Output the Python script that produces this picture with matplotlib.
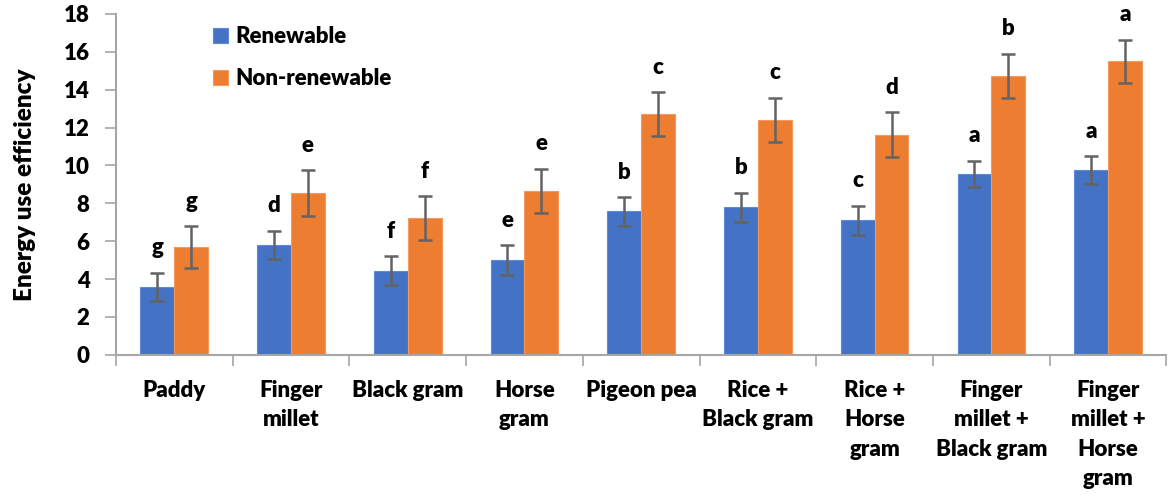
import matplotlib.pyplot as plt
import numpy as np

plt.rcParams['font.family'] = ['Lato', 'DejaVu Sans']
plt.rcParams['font.weight'] = 'heavy'

categories = ["Paddy", "Finger\nmillet", "Black gram", "Horse\ngram", "Pigeon pea",
              "Rice +\nBlack gram", "Rice +\nHorse\ngram", "Finger\nmillet +\nBlack gram",
              "Finger\nmillet +\nHorse\ngram"]
renewable = [3.6, 5.8, 4.45, 5.0, 7.57, 7.78, 7.1, 9.55, 9.76]
renewable_err = [0.74, 0.75, 0.75, 0.78, 0.75, 0.78, 0.76, 0.7, 0.73]
nonrenewable = [5.7, 8.55, 7.22, 8.66, 12.71, 12.42, 11.63, 14.72, 15.49]
nonrenewable_err = [1.1, 1.2, 1.15, 1.17, 1.15, 1.16, 1.19, 1.18, 1.14]
renewable_letters = ["g", "d", "f", "e", "b", "b", "c", "a", "a"]
nonrenewable_letters = ["g", "e", "f", "e", "c", "c", "d", "b", "a"]

blue = "#4472C4"
orange = "#ED7D31"
grey = "#A6A6A6"

fig = plt.figure(figsize=(11.7, 4.97), dpi=100)
ax = fig.add_axes([0.099, 0.286, 0.898, 0.686])

x = np.arange(len(categories))
w = 0.29
ekw = dict(ecolor="#636363", elinewidth=1.8, capsize=5, capthick=1.8)
ax.bar(x - w / 2, renewable, w, yerr=renewable_err, color=blue, edgecolor="#5B8BD8",
       linewidth=0.8, label="Renewable", error_kw=ekw)
ax.bar(x + w / 2, nonrenewable, w, yerr=nonrenewable_err, color=orange, edgecolor="#F59A5C",
       linewidth=0.8, label="Non-renewable", error_kw=ekw)

for i in range(len(categories)):
    ax.annotate(renewable_letters[i], (x[i] - w / 2, renewable[i] + renewable_err[i]),
                xytext=(0, 18), textcoords="offset points", ha="center", va="center",
                fontsize=16, fontweight="heavy")
    ax.annotate(nonrenewable_letters[i], (x[i] + w / 2, nonrenewable[i] + nonrenewable_err[i]),
                xytext=(0, 18), textcoords="offset points", ha="center", va="center",
                fontsize=16, fontweight="heavy")

ax.set_xlim(-0.5, len(categories) - 0.5)
ax.set_ylim(0, 18)
ax.set_yticks(range(0, 19, 2))
ax.set_xticks(x)
ax.set_xticklabels(categories, fontsize=16, fontweight="heavy", linespacing=1.5)
ax.set_xticks(np.arange(-0.5, len(categories), 1), minor=True)
ax.tick_params(axis="x", which="major", length=0, pad=18)
ax.tick_params(axis="x", which="minor", length=8, color=grey, width=1.2)
ax.tick_params(axis="y", length=8, color=grey, width=1.2, labelsize=16, pad=11)
for t in ax.get_yticklabels():
    t.set_fontweight("heavy")

for s in ["top", "right"]:
    ax.spines[s].set_visible(False)
for s in ["left", "bottom"]:
    ax.spines[s].set_color(grey)
    ax.spines[s].set_linewidth(1.5)

ax.set_ylabel("Energy use efficiency", fontsize=17.5, fontweight="heavy", labelpad=20)

ax.legend(loc="upper left", bbox_to_anchor=(0.073, 1.023), frameon=False,
          handlelength=0.7, handleheight=0.7, handletextpad=0.35, labelspacing=0.95,
          prop={"weight": "heavy", "size": 16})

fig.savefig("out.png", dpi=100)
